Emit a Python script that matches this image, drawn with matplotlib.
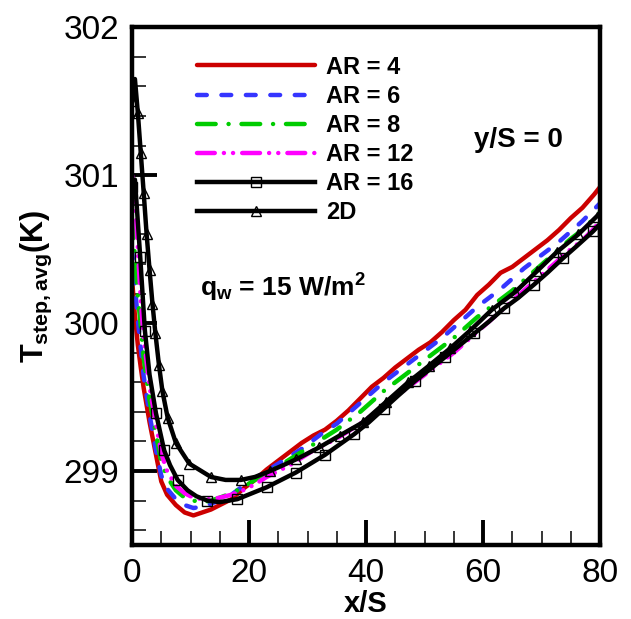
import numpy as np
import matplotlib
matplotlib.use('Agg')
import matplotlib.pyplot as plt

plt.rcParams['font.family'] = ['Liberation Sans', 'DejaVu Sans']
plt.rcParams['mathtext.fontset'] = 'custom'
plt.rcParams['mathtext.rm'] = 'Liberation Sans:bold'
plt.rcParams['mathtext.bf'] = 'Liberation Sans:bold'
plt.rcParams['mathtext.it'] = 'Liberation Sans:bold'
plt.rcParams['mathtext.default'] = 'bf'

# x/S grid shared by the AR = 4, 6, 8, 12 curves
x_ar = [0, 0.5, 1, 1.5, 2, 3, 4, 5, 6, 7.5, 9, 10.5, 12, 13.5, 15, 17, 19, 21, 23, 25,
        27, 29, 31, 33, 35, 37, 39, 41, 43, 45, 47, 49, 51, 53, 55, 57, 59, 61, 63, 65,
        67, 69, 71, 73, 75, 77, 79, 80]

t_ar4 = [300.30, 300.05, 299.85, 299.70, 299.56, 299.33, 299.13, 298.93, 298.84, 298.77,
         298.72, 298.70, 298.72, 298.74, 298.77, 298.81, 298.88, 298.94, 299.01, 299.07,
         299.13, 299.19, 299.24, 299.28, 299.34, 299.41, 299.49, 299.57, 299.63, 299.70,
         299.76, 299.82, 299.87, 299.94, 300.02, 300.09, 300.19, 300.26, 300.34, 300.38,
         300.44, 300.50, 300.56, 300.63, 300.71, 300.78, 300.87, 300.92]

t_ar6 = [300.50, 300.25, 300.02, 299.83, 299.64, 299.38, 299.16, 298.97, 298.88, 298.81,
         298.77, 298.75, 298.76, 298.78, 298.80, 298.84, 298.90, 298.95, 299.00, 299.05,
         299.10, 299.15, 299.21, 299.27, 299.32, 299.39, 299.46, 299.53, 299.60, 299.66,
         299.72, 299.78, 299.84, 299.90, 299.97, 300.04, 300.11, 300.17, 300.23, 300.30,
         300.37, 300.43, 300.49, 300.55, 300.62, 300.69, 300.77, 300.81]

t_ar8 = [300.70, 300.45, 300.18, 299.98, 299.76, 299.48, 299.27, 299.06, 298.96, 298.87,
         298.82, 298.80, 298.79, 298.80, 298.82, 298.85, 298.89, 298.94, 298.99, 299.03,
         299.08, 299.13, 299.18, 299.23, 299.28, 299.34, 299.40, 299.47, 299.54, 299.60,
         299.66, 299.72, 299.78, 299.84, 299.90, 299.97, 300.04, 300.10, 300.16, 300.22,
         300.29, 300.36, 300.43, 300.50, 300.57, 300.63, 300.71, 300.75]

t_ar12 = [301.00, 300.85, 300.50, 300.15, 299.90, 299.57, 299.34, 299.12, 299.00, 298.90,
          298.85, 298.82, 298.81, 298.81, 298.82, 298.84, 298.87, 298.91, 298.96, 299.00,
          299.04, 299.09, 299.14, 299.18, 299.22, 299.27, 299.32, 299.38, 299.44, 299.50,
          299.56, 299.62, 299.68, 299.74, 299.80, 299.87, 299.94, 300.01, 300.08, 300.15,
          300.22, 300.29, 300.36, 300.43, 300.50, 300.56, 300.64, 300.69]

x_ar16 = [0, 0.5, 1.4, 2.2, 3.0, 4.1, 5.5, 6.5, 7.8, 9.5, 11, 12.9, 15, 18, 20.5, 23, 25.5,
          28, 30.5, 33, 35.5, 38, 40.5, 43, 45.5, 48.4, 51, 53.5, 56, 58.5, 61, 63.6, 66,
          68.7, 71, 73.7, 76, 78.8, 80]
t_ar16 = [300.92, 300.97, 300.45, 299.95, 299.65, 299.39, 299.14, 299.04, 298.94, 298.87,
          298.83, 298.80, 298.79, 298.81, 298.85, 298.89, 298.94, 298.99, 299.05, 299.11,
          299.18, 299.25, 299.33, 299.42, 299.51, 299.61, 299.69, 299.77, 299.85, 299.93,
          300.01, 300.10, 300.17, 300.26, 300.34, 300.44, 300.52, 300.62, 300.67]
mark_ar16 = [0, 2, 3, 5, 6, 8, 11, 13, 15, 17, 19, 21, 23, 25, 27, 29, 31, 33, 35, 37]

x_2d = [0, 0.5, 1.0, 1.5, 2.0, 2.5, 3.0, 3.5, 4.0, 4.6, 5.2, 6.1, 7.5, 9.8, 13.5, 16, 18.6,
        21, 23.6, 28.1, 32, 35.5, 39.5, 43.5, 47.2, 50.7, 54.4, 57.8, 61.5, 65.5, 69.2,
        72.6, 76.3, 79.4, 80]
t_2d = [301.50, 301.65, 301.42, 301.15, 300.88, 300.60, 300.36, 300.13, 299.93, 299.72,
        299.54, 299.36, 299.19, 299.05, 298.96, 298.94, 298.94, 298.96, 299.00, 299.08,
        299.16, 299.24, 299.33, 299.47, 299.60, 299.71, 299.83, 299.95, 300.09, 300.21,
        300.35, 300.48, 300.60, 300.72, 300.74]
mark_2d = [0, 2, 3, 4, 5, 6, 7, 8, 9, 10, 11, 12, 13, 14, 16, 18, 19, 20, 21, 22, 23, 24,
           25, 26, 27, 28, 29, 30, 31, 32, 33]

fig = plt.figure(figsize=(6.31, 6.19), dpi=100)
ax = fig.add_axes([0.2092, 0.1195, 0.7417, 0.8365])

lw = 3.2
ax.plot(x_ar, t_ar4, color='#cc0000', lw=lw, label='AR = 4', solid_capstyle='round')
ax.plot(x_ar, t_ar6, color='#3535ff', lw=lw, label='AR = 6',
        dashes=(2.2, 3.3), dash_capstyle='round')
ax.plot(x_ar, t_ar8, color='#00cc00', lw=lw, label='AR = 8',
        dashes=(4.2, 2.9, 0.01, 2.9), dash_capstyle='round')
ax.plot(x_ar, t_ar12, color='#ff00ff', lw=lw, label='AR = 12',
        dashes=(4.0, 2.05, 0.01, 2.05, 0.01, 2.05), dash_capstyle='round')
ax.plot(x_ar16, t_ar16, color='black', lw=lw, label='AR = 16', marker='s', ms=7,
        mfc='none', mec='black', mew=1.0, markevery=mark_ar16)
ax.plot(x_2d, t_2d, color='black', lw=lw, label='2D', marker='^', ms=7.5,
        mfc='none', mec='black', mew=1.0, markevery=mark_2d)

ax.set_xlim(0, 80)
ax.set_ylim(298.5, 302)
ax.set_xticks([0, 20, 40, 60, 80])
ax.set_yticks([299, 300, 301, 302])
ax.set_xticks(np.arange(0, 81, 5), minor=True)
ax.set_yticks(np.arange(298.6, 302, 0.2), minor=True)
ax.tick_params(which='major', direction='in', length=18, width=2.8, labelsize=24, pad=9,
               top=False, right=False)
ax.tick_params(which='minor', direction='in', length=10, width=1.1, top=False, right=False)
for sp in ax.spines.values():
    sp.set_linewidth(3.2)

ax.set_xlabel('x/S', fontsize=21, fontweight='bold', labelpad=1)
ax.set_ylabel(r'$T_{step,avg}$(K)', fontsize=22, fontweight='bold', labelpad=7)

ax.text(58.5, 301.24, 'y/S = 0', fontsize=20, fontweight='bold', va='center')
ax.text(11.6, 300.24, r'$q_w$ = 15 W/m$^2$', fontsize=19, fontweight='bold', va='center')

ax.legend(loc='upper left', bbox_to_anchor=(0.139, 0.945), frameon=False,
          handlelength=5.0, handletextpad=0.45, labelspacing=0.26, borderpad=0,
          borderaxespad=0, prop={'size': 17, 'weight': 'bold'})

fig.savefig('out.png', dpi=100)
